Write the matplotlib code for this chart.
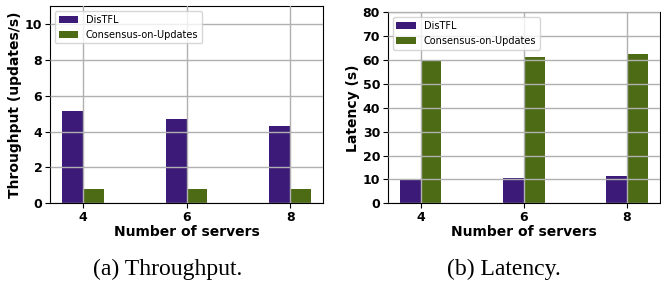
import numpy as np
import matplotlib
matplotlib.use('Agg')
from matplotlib import pyplot as plt

servers = [4, 6, 8]
thr_distfl = [5.13, 4.68, 4.29]
thr_consensus = [0.80, 0.80, 0.80]
lat_distfl = [9.9, 10.7, 11.5]
lat_consensus = [59.8, 61.3, 62.5]
labels = ['DisTFL', 'Consensus-on-Updates']
c_purple = '#3c1a78'
c_green = '#4d6b14'

fig = plt.figure(figsize=(6.61, 2.85), dpi=100)
ax1 = fig.add_axes([0.0756, 0.2867, 0.4135, 0.6923])
ax2 = fig.add_axes([0.5866, 0.2867, 0.4119, 0.6702])

x = np.array(servers)
w = 0.4


def draw(ax, a, b, ylim, yticks, ylabel):
    ax.bar(x - w / 2, a, w, color=c_purple, label=labels[0])
    ax.bar(x + w / 2, b, w, color=c_green, label=labels[1])
    ax.set_axisbelow(False)
    ax.grid(True, color='#b0b0b0', linewidth=1.0)
    ax.set_ylim(*ylim)
    ax.set_yticks(yticks)
    ax.set_xticks(servers)
    ax.tick_params(labelsize=9, pad=2)
    for t in ax.get_xticklabels() + ax.get_yticklabels():
        t.set_fontweight('bold')
    ax.set_xlabel('Number of servers', fontsize=10, fontweight='bold', labelpad=1)
    ax.set_ylabel(ylabel, fontsize=10, fontweight='bold', labelpad=2)
    ax.legend(loc='upper left', fontsize=7)


draw(ax1, thr_distfl, thr_consensus, (0, 11), [0, 2, 4, 6, 8, 10], 'Throughput (updates/s)')
draw(ax2, lat_distfl, lat_consensus, (0, 80), range(0, 81, 10), 'Latency (s)')

fig.text(0.2535, 0.053, '(a) Throughput.', ha='center', va='center',
         family='Liberation Serif', fontsize=17)
fig.text(0.763, 0.053, '(b) Latency.', ha='center', va='center',
         family='Liberation Serif', fontsize=17)

fig.savefig('out.png', dpi=100)
